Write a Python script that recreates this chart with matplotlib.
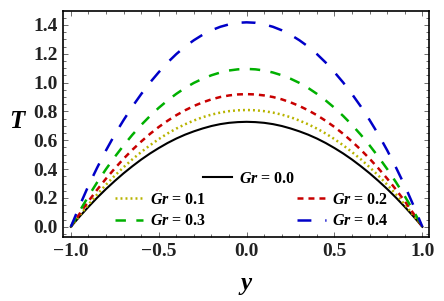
import matplotlib
matplotlib.use("Agg")
import matplotlib.pyplot as plt
from matplotlib.ticker import MultipleLocator

plt.rcParams["font.family"] = "Liberation Serif"
plt.rcParams["font.weight"] = "bold"
plt.rcParams["mathtext.fontset"] = "custom"
plt.rcParams["mathtext.it"] = "Liberation Serif:italic:bold"
plt.rcParams["mathtext.rm"] = "Liberation Serif:bold"
plt.rcParams["lines.scale_dashes"] = False

# Data.
y_pos = [-1.0, -0.95, -0.9, -0.85, -0.8, -0.75, -0.7, -0.65, -0.6, -0.55,
         -0.5, -0.45, -0.4, -0.35, -0.3, -0.25, -0.2, -0.15, -0.1, -0.05,
         0.0,
         0.05, 0.1, 0.15, 0.2, 0.25, 0.3, 0.35, 0.4, 0.45, 0.5,
         0.55, 0.6, 0.65, 0.7, 0.75, 0.8, 0.85, 0.9, 0.95, 1.0]

T_gr00 = [0.0, 0.071, 0.138, 0.202, 0.262, 0.318, 0.371, 0.420, 0.466, 0.508,
          0.546, 0.581, 0.612, 0.639, 0.662, 0.682, 0.699, 0.712, 0.721, 0.726,
          0.728,
          0.726, 0.721, 0.712, 0.699, 0.682, 0.662, 0.639, 0.612, 0.581, 0.546,
          0.508, 0.466, 0.420, 0.371, 0.318, 0.262, 0.202, 0.138, 0.071, 0.0]
T_gr01 = [0.0, 0.079, 0.154, 0.225, 0.292, 0.355, 0.413, 0.468, 0.518, 0.565,
          0.608, 0.647, 0.681, 0.711, 0.737, 0.760, 0.778, 0.792, 0.802, 0.808,
          0.810,
          0.808, 0.802, 0.792, 0.778, 0.760, 0.737, 0.711, 0.681, 0.647, 0.608,
          0.565, 0.518, 0.468, 0.413, 0.355, 0.292, 0.225, 0.154, 0.079, 0.0]
T_gr02 = [0.0, 0.091, 0.177, 0.258, 0.334, 0.405, 0.472, 0.534, 0.591, 0.644,
          0.692, 0.735, 0.774, 0.808, 0.838, 0.863, 0.884, 0.900, 0.911, 0.918,
          0.920,
          0.918, 0.911, 0.900, 0.884, 0.863, 0.838, 0.808, 0.774, 0.735, 0.692,
          0.644, 0.591, 0.534, 0.472, 0.405, 0.334, 0.258, 0.177, 0.091, 0.0]
T_gr03 = [0.0, 0.109, 0.212, 0.309, 0.400, 0.485, 0.564, 0.638, 0.706, 0.768,
          0.825, 0.876, 0.922, 0.963, 0.998, 1.027, 1.051, 1.070, 1.084, 1.092,
          1.095,
          1.092, 1.084, 1.070, 1.051, 1.027, 0.998, 0.963, 0.922, 0.876, 0.825,
          0.768, 0.706, 0.638, 0.564, 0.485, 0.400, 0.309, 0.212, 0.109, 0.0]
T_gr04 = [0.0, 0.146, 0.285, 0.411, 0.530, 0.640, 0.740, 0.834, 0.920, 1.000,
          1.072, 1.139, 1.198, 1.250, 1.294, 1.332, 1.363, 1.387, 1.404, 1.415,
          1.418,
          1.415, 1.404, 1.387, 1.363, 1.332, 1.294, 1.250, 1.198, 1.139, 1.072,
          1.000, 0.920, 0.834, 0.740, 0.640, 0.530, 0.411, 0.285, 0.146, 0.0]

gr_labels = ["0.0", "0.1", "0.2", "0.3", "0.4"]

fig = plt.figure(figsize=(4.44, 3.01), dpi=100)
ax = fig.add_axes([0.1426, 0.2126, 0.8225, 0.751])

# Curves.
h0, = ax.plot(y_pos, T_gr00, color="black", lw=1.5)
h1, = ax.plot(y_pos, T_gr01, color="#b8b400", lw=1.8, ls=(0, (1.4, 2.2)))
h2, = ax.plot(y_pos, T_gr02, color="#c80000", lw=1.8, ls=(0, (4.3, 3.6)))
h3, = ax.plot(y_pos, T_gr03, color="#00b000", lw=1.8, ls=(0, (7.5, 7.5)))
h4, = ax.plot(y_pos, T_gr04, color="#0000c8", lw=1.8, ls=(0, (10, 10)))

ax.set_xlim([-1.043, 1.035])
ax.set_ylim([-0.071, 1.497])

# Frame and ticks.
ax.xaxis.set_major_locator(MultipleLocator(0.5))
ax.xaxis.set_minor_locator(MultipleLocator(0.1))
ax.yaxis.set_major_locator(MultipleLocator(0.2))
ax.yaxis.set_minor_locator(MultipleLocator(0.05))
ax.tick_params(which="both", direction="in", top=True, right=True,
               color="#555555", width=0.6)
ax.tick_params(which="major", length=3.5, labelsize=14, pad=4,
               labelcolor="#222222")
ax.tick_params(which="minor", length=2)
for spine in ax.spines.values():
    spine.set_linewidth(1.2)

fig.text(0.04, 0.595, r"$T$", fontsize=18, ha="center", va="center")
fig.text(0.553, 0.053, r"$y$", fontsize=18, ha="center", va="center")

# Legends.
leg1 = ax.legend(handles=[h0], labels=[r"$Gr$ = " + gr_labels[0]],
                 loc="center", bbox_to_anchor=(0.509, 0.257),
                 frameon=False, fontsize=11.5, handlelength=1.8,
                 handletextpad=0.4, borderpad=0)
ax.add_artist(leg1)
ax.legend(handles=[h1, h3, h2, h4],
          labels=[r"$Gr$ = " + gr_labels[1], r"$Gr$ = " + gr_labels[3],
                  r"$Gr$ = " + gr_labels[2], r"$Gr$ = " + gr_labels[4]],
          loc="center", bbox_to_anchor=(0.516, 0.117), ncol=2,
          frameon=False, fontsize=11.5, handlelength=1.8,
          handletextpad=0.4, columnspacing=5.7, labelspacing=0.35,
          borderpad=0)

fig.savefig("out.png", dpi=100)
